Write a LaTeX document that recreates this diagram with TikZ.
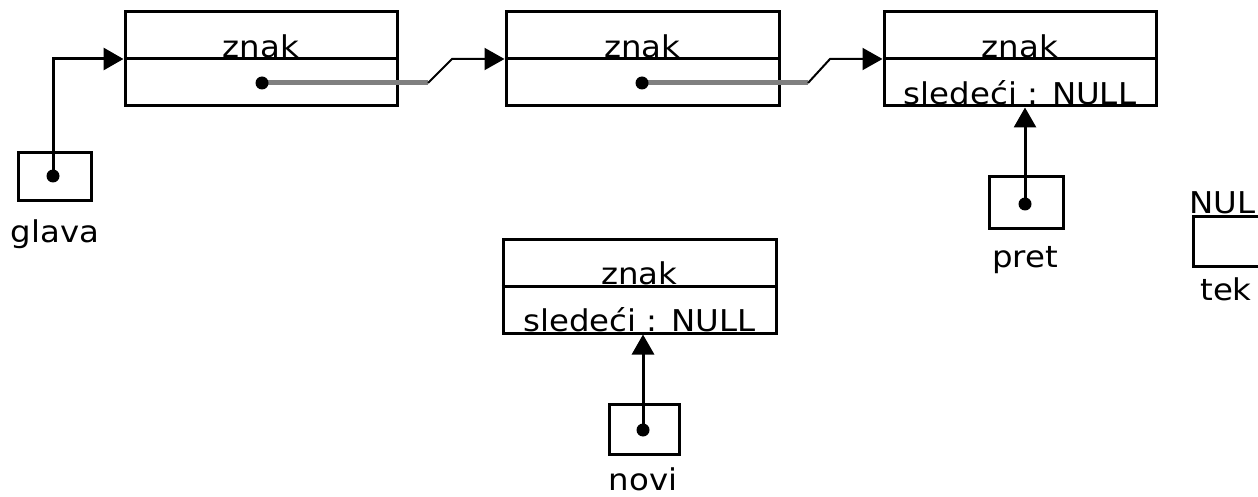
\documentclass[tikz,border=0pt]{standalone}
\usepackage{fontspec}
\setmainfont{DejaVu Sans}[FakeStretch=1.08]
\usetikzlibrary{arrows.meta}

\begin{document}
\begin{tikzpicture}[x=1pt,y=-1pt,
  lbl/.style={font=\fontsize{30}{30}\selectfont, inner sep=0pt, anchor=base},
  listnode/.style={draw, line width=3pt, minimum width=272pt, minimum height=94pt, inner sep=0pt},
  ptrbox/.style={draw, line width=3pt, inner sep=0pt},
  dot/.style={circle, fill, inner sep=0pt, minimum size=13pt},
  ptr/.style={line width=3pt, -{Triangle[length=20pt,width=22pt]}},
  nextgray/.style={line width=5pt, draw=gray},
  nextlink/.style={line width=2pt, -{Triangle[length=20pt,width=22pt]}},
]
\useasboundingbox (0,0) rectangle (1258,497);
\clip (0,0) rectangle (1258,497);

% list elements
\node[listnode] (n1) at (261,59) {};
\node[listnode, minimum width=273pt] (n2) at (642.5,59) {};
\node[listnode] (n3) at (1020,59) {};
\node[listnode, minimum width=273pt] (n4) at (639.5,286) {};
\foreach \n in {n1,n2,n3,n4} \draw[line width=3pt] (\n.west) -- (\n.east);

\foreach \n in {n1,n2,n3,n4}
  \node[lbl] at ([yshift=1.5pt]\n.center) {znak};
\node[lbl] at ([yshift=3pt]n3.south) {sledeći : NULL};
\node[lbl] at ([yshift=3pt]n4.south) {sledeći : NULL};

% pointer variables
\node[ptrbox, minimum width=73pt, minimum height=48pt] (glava) at (54.5,177) {};
\node[lbl] at (55,242) {glava};
\node[ptrbox, minimum width=74pt, minimum height=52pt] (pret) at (1026,203) {};
\node[lbl] at (1025,267) {pret};
\node[ptrbox, minimum width=70pt, minimum height=50pt] (novi) at (644,429) {};
\node[lbl] at (643,490) {novi};
\node[ptrbox, minimum width=73pt, minimum height=50pt] (tek) at (1229.5,241.5) {};
\node[lbl, anchor=base west] at (1189,214) {NULL};
\node[lbl] at (1226,300) {tek};

% pointer dots
\node[dot] (gd) at (53,176) {};
\node[dot] (pd) at (1025,204) {};
\node[dot] (nd) at (643,430) {};

% next fields
\coordinate (k1a) at (428,83);
\coordinate (k1b) at (452,59);
\coordinate (k2a) at (808,83);
\coordinate (k2b) at (830,59);
\draw[nextgray] (262,83) -- (k1a);
\draw[nextlink] (k1a) -- (k1b) -- (k1b -| n2.west);
\draw[nextgray] (642,83) -- (k2a);
\draw[nextlink] (k2a) -- (k2b) -- (k2b -| n3.west);
\node[dot] (d1) at (262,83) {};
\node[dot] (d2) at (642,83) {};

% pointer arrows
\draw[ptr] (gd.center) |- (n1.west);
\draw[ptr] (pd.center) -- (pd.center |- n3.south);
\draw[ptr] (nd.center) -- (nd.center |- n4.south);
\end{tikzpicture}
\end{document}
